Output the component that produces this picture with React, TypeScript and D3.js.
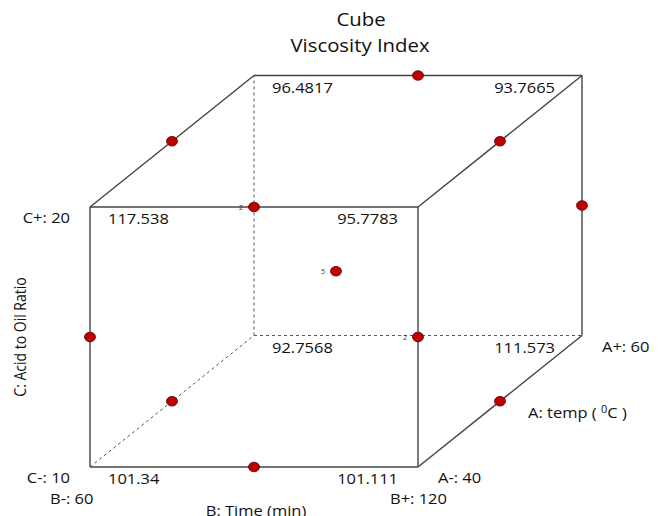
import React from "react";
import * as d3 from "d3";

// Factor levels
const A_LEVELS = [40, 60]; // temp (depth)
const B_LEVELS = [60, 120]; // Time (horizontal)
const C_LEVELS = [10, 20]; // Acid to Oil Ratio (vertical)

// Corner responses (coded a,b,c in -1/+1)
const cornerA = [-1, -1, -1, -1, 1, 1, 1, 1];
const cornerB = [-1, 1, -1, 1, -1, 1, -1, 1];
const cornerC = [-1, -1, 1, 1, -1, -1, 1, 1];
const cornerResponse = ["101.34", "101.111", "117.538", "95.7783", "92.7568", "111.573", "96.4817", "93.7665"];

// Design points (Box-Behnken edge midpoints + centre); count = overlapping runs shown at that spot
const ptA = [-1, -1, -1, -1, 1, 1, 0, 0, 0, 0, 0];
const ptB = [0, 0, -1, 1, 0, 1, -1, 1, -1, 1, 0];
const ptC = [1, -1, 0, 0, 1, 0, 1, 1, -1, -1, 0];
const ptCount = [2, 1, 1, 2, 1, 1, 1, 1, 1, 1, 5];

const W = 658;
const H = 516;

export default function App() {
  const xB = d3.scaleLinear().domain([-1, 1]).range([90, 418]);
  const yC = d3.scaleLinear().domain([-1, 1]).range([467, 207]);
  const depth = d3.scaleLinear().domain([-1, 1]).range([0, 1]);
  const DX = 164, DY = -131.5;
  const proj = (a: number, b: number, c: number): [number, number] => [
    xB(b) + depth(a) * DX,
    yC(c) + depth(a) * DY,
  ];

  const edges: { p: [number, number, number]; q: [number, number, number]; hidden: boolean }[] = [];
  const verts: [number, number, number][] = [];
  for (const a of [-1, 1]) for (const b of [-1, 1]) for (const c of [-1, 1]) verts.push([a, b, c]);
  const hiddenV = (v: number[]) => v[0] === 1 && v[1] === -1 && v[2] === -1;
  for (let i = 0; i < verts.length; i++)
    for (let j = i + 1; j < verts.length; j++) {
      const v = verts[i], u = verts[j];
      const diff = v.reduce((s, x, k) => s + (x !== u[k] ? 1 : 0), 0);
      if (diff === 1) edges.push({ p: v, q: u, hidden: hiddenV(v) || hiddenV(u) });
    }

  const font = "'Open Sans', 'Noto Sans', sans-serif";
  const SX = 1.1;
  const T = (x: number, y: number, s: string, anchor: string, size = 15, key?: string) => (
    <text
      key={key}
      transform={`translate(${x},${y}) scale(${SX},1)`}
      textAnchor={anchor}
      fontSize={size}
      fontFamily={font}
      fill="#111"
    >
      {s}
    </text>
  );

  const cornerLabels = cornerResponse.map((v, i) => {
    const [x, y] = proj(cornerA[i], cornerB[i], cornerC[i]);
    const left = cornerB[i] === -1;
    const off = cornerA[i] === 1 ? 27 : 20;
    return T(left ? x + 18 : x - off, y + 17, v, left ? "start" : "end", 15, "c" + i);
  });

  return (
    <svg width={W} height={H} style={{ position: "absolute", left: 0, top: 0 }}>
      <rect width={W} height={H} fill="#fff" />
      {T(361, 26, "Cube", "middle", 18.5)}
      {T(360, 52, "Viscosity Index", "middle", 18.5)}
      {edges.map((e, i) => {
        const [x1, y1] = proj(...e.p);
        const [x2, y2] = proj(...e.q);
        return (
          <line
            key={"e" + i}
            x1={x1}
            y1={y1}
            x2={x2}
            y2={y2}
            stroke={e.hidden ? "#555" : "#444"}
            strokeWidth={e.hidden ? 1 : 1.4}
            strokeDasharray={e.hidden ? "3,3" : undefined}
          />
        );
      })}
      {cornerLabels}
      {ptA.map((a, i) => {
        const [x, y] = proj(a, ptB[i], ptC[i]);
        return (
          <g key={"p" + i}>
            <ellipse cx={x} cy={y} rx={5.5} ry={4.8} fill="#c00000" stroke="#5a0000" strokeWidth={0.8} />
            {ptCount[i] > 1 && (
              <text x={x - 11} y={y + 2.5} fontSize={7} fontFamily={font} textAnchor="end" fill="#333">
                {ptCount[i]}
              </text>
            )}
          </g>
        );
      })}
      {T(70, 223, `C+: ${C_LEVELS[1]}`, "end")}
      {T(70, 483, `C-: ${C_LEVELS[0]}`, "end")}
      {T(50, 504, `B-: ${B_LEVELS[0]}`, "start")}
      {T(390, 504, `B+: ${B_LEVELS[1]}`, "start")}
      {T(256, 516, "B: Time (min)", "middle")}
      {T(438, 483, `A-: ${A_LEVELS[0]}`, "start")}
      {T(602, 352, `A+: ${A_LEVELS[1]}`, "start")}
      <text
        transform={`translate(528,418) scale(${SX},1)`}
        fontSize={15}
        fontFamily={font}
        fill="#111"
      >
        A: temp ( <tspan fontSize={10} dy={-5}>0</tspan>
        <tspan dy={5}>C )</tspan>
      </text>
      <text
        transform="translate(26,337) rotate(-90) scale(1,1.1)"
        textAnchor="middle"
        fontSize={14}
        fontFamily={font}
        fill="#111"
      >
        C: Acid to Oil Ratio
      </text>
    </svg>
  );
}
